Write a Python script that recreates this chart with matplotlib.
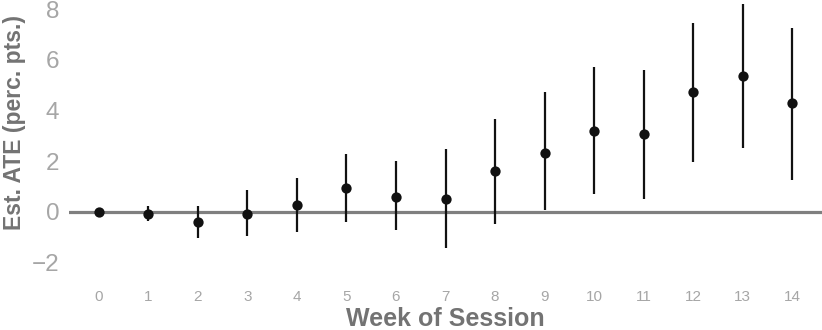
import matplotlib
matplotlib.use("Agg")
import matplotlib.pyplot as plt

weeks = list(range(15))
ate = [0.0, -0.09, -0.42, -0.09, 0.28, 0.94, 0.60, 0.51, 1.59, 2.34, 3.21, 3.06, 4.72, 5.36, 4.28]
ci_low = [-0.08, -0.36, -1.05, -0.96, -0.80, -0.40, -0.74, -1.45, -0.47, 0.05, 0.71, 0.49, 1.98, 2.50, 1.26]
ci_high = [0.08, 0.21, 0.21, 0.84, 1.34, 2.28, 2.00, 2.48, 3.65, 4.74, 5.72, 5.61, 7.46, 8.22, 7.28]
yticks = [-2, 0, 2, 4, 6, 8]

plt.rcParams['font.family'] = ['Liberation Sans', 'DejaVu Sans']

fig = plt.figure(figsize=(8.22, 3.30), dpi=100)
ax = fig.add_axes([69/822, 50/330, 1 - 69/822, 280/330])

ax.axhline(0, color='#7f7f7f', lw=2.3, zorder=1)
ax.vlines(weeks, ci_low, ci_high, color='#111111', lw=1.6, zorder=2)
ax.scatter(weeks, ate, s=55, color='#111111', zorder=3, linewidths=0)

ax.set_xlim(-0.6, 14.6)
ax.set_ylim(-2.7, 8.37)
ax.set_xticks(weeks)
ax.set_xticklabels([str(w) for w in weeks])
ax.set_yticks(yticks)
ax.set_yticklabels(['\u22122' if t < 0 else str(t) for t in yticks])
ax.tick_params(axis='x', length=0, pad=7, labelsize=11, labelcolor='#a6a6a6')
ax.tick_params(axis='y', length=0, pad=7, labelsize=17.5, labelcolor='#a6a6a6')
for s in ax.spines.values():
    s.set_visible(False)
ax.set_xlabel('Week of Session', fontsize=18, fontweight='bold', color='#737373', labelpad=2)
ax.set_ylabel('Est. ATE (perc. pts.)', fontsize=16.5, fontweight='bold', color='#737373')
ax.yaxis.set_label_coords(-0.0571, 0.564)

fig.savefig('out.png', dpi=100)
